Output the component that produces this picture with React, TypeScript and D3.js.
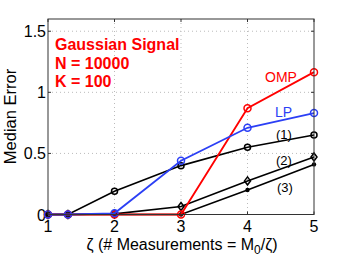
import React from "react";
import * as d3 from "d3";

const xs = [1, 1.3, 2, 3, 4, 5];
const omp = [0, 0, 0, 0, 0.87, 1.165];
const lp = [0, 0, 0.01, 0.44, 0.71, 0.83];
const s1 = [0, 0, 0.19, 0.4, 0.55, 0.65];
const s2 = [0, 0, 0.005, 0.065, 0.275, 0.47];
const s3 = [0, 0, 0, 0, 0.2, 0.41];
const xTicks = [1, 2, 3, 4, 5];
const yTicks = [0, 0.5, 1, 1.5];
const yTickLabels = ["0", "0.5", "1", "1.5"];

export default function App() {
  const W = 346, H = 260;
  const L = 48, R = 314, T = 19, B = 214.5;
  const x = d3.scaleLinear().domain([1, 5]).range([L, R]);
  const y = d3.scaleLinear().domain([0, 1.6]).range([B, T]);
  const line = d3.line<number>().x((_, i) => x(xs[i])).y((d) => y(d));
  const font = "'Liberation Sans', Arial, Helvetica, sans-serif";

  const circles = (vals: number[], color: string, r = 3) =>
    vals.map((v, i) => (
      <circle key={i} cx={x(xs[i])} cy={y(v)} r={r} fill="none" stroke={color} strokeWidth={1.5} />
    ));
  const diamonds = (vals: number[], color: string) =>
    vals.map((v, i) => {
      const cx = x(xs[i]), cy = y(v);
      return (
        <path key={i} d={`M${cx},${cy - 4}L${cx + 3},${cy}L${cx},${cy + 4}L${cx - 3},${cy}Z`} fill="none" stroke={color} strokeWidth={1.5} />
      );
    });
  const dots = (vals: number[], color: string) =>
    vals.map((v, i) => <circle key={i} cx={x(xs[i])} cy={y(v)} r={2.2} fill={color} />);

  return (
    <svg width={W} height={H} style={{ position: "absolute", left: 0, top: 0, fontFamily: font }}>
      <rect width={W} height={H} fill="#fff" />
      {/* grid */}
      {xTicks.slice(1, -1).map((t) => (
        <line key={"gx" + t} x1={x(t)} x2={x(t)} y1={T} y2={B} stroke="#bbb" strokeDasharray="1,3" />
      ))}
      {yTicks.slice(1).map((t) => (
        <line key={"gy" + t} x1={L} x2={R} y1={y(t)} y2={y(t)} stroke="#bbb" strokeDasharray="1,3" />
      ))}
      {/* ticks */}
      {xTicks.map((t) => (
        <g key={"tx" + t}>
          <line x1={x(t)} x2={x(t)} y1={B} y2={B - 3} stroke="#333" />
          <line x1={x(t)} x2={x(t)} y1={T} y2={T + 3} stroke="#333" />
          <text x={x(t)} y={232} fontSize={16} textAnchor="middle" fill="#000">{t}</text>
        </g>
      ))}
      {yTicks.map((t, i) => (
        <g key={"ty" + t}>
          <line x1={L} x2={L + 3} y1={y(t)} y2={y(t)} stroke="#333" />
          <line x1={R} x2={R - 3} y1={y(t)} y2={y(t)} stroke="#333" />
          <text x={46} y={y(t) + 6} fontSize={16} textAnchor="end" fill="#000">{yTickLabels[i]}</text>
        </g>
      ))}
      {/* series */}
      <path d={line(s3)!} fill="none" stroke="#000" strokeWidth={1.6} />
      {dots(s3, "#000")}
      <path d={line(s2)!} fill="none" stroke="#000" strokeWidth={1.6} />
      {diamonds(s2, "#000")}
      <path d={line(s1)!} fill="none" stroke="#000" strokeWidth={1.6} />
      {circles(s1, "#000")}
      <path d={line(omp)!} fill="none" stroke="#ff0000" strokeWidth={1.8} />
      {circles(omp, "#ff0000", 3.5)}
      <path d={line(lp)!} fill="none" stroke="#2b3ff5" strokeWidth={1.8} />
      {circles(lp, "#2b3ff5", 3.5)}
      {/* frame */}
      <rect x={L} y={T} width={R - L} height={B - T} fill="none" stroke="#333" strokeWidth={1} />
      {/* labels */}
      <g fill="#ff0000" fontWeight="bold" fontSize={16}>
        <text x={55} y={50}>Gaussian Signal</text>
        <text x={55} y={68.5}>N = 10000</text>
        <text x={55} y={87}>K = 100</text>
      </g>
      <text x={265} y={82} fontSize={14} fill="#ff0000">OMP</text>
      <text x={275} y={117} fontSize={14} fill="#2b3ff5">LP</text>
      <text x={276} y={139} fontSize={13} fill="#000">(1)</text>
      <text x={276} y={165} fontSize={13} fill="#000">(2)</text>
      <text x={277} y={192} fontSize={13} fill="#000">(3)</text>
      <text transform={`translate(16,116.5) rotate(-90)`} fontSize={16.5} textAnchor="middle" fill="#000">Median Error</text>
      <text x={182} y={250} fontSize={16} textAnchor="middle" fill="#000">
        ζ (# Measurements = M<tspan dy={4} fontSize={12}>0</tspan><tspan dy={-4}>/ζ)</tspan>
      </text>
    </svg>
  );
}
